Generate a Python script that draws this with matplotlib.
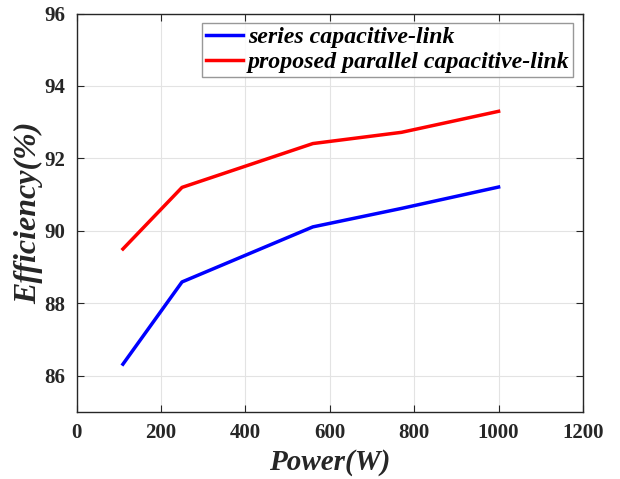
import matplotlib
matplotlib.use('Agg')
import matplotlib.pyplot as plt

# data
power = [110, 250, 560, 770, 1000]
eff_series = [86.32, 88.59, 90.11, 90.62, 91.21]
eff_parallel = [89.5, 91.2, 92.41, 92.72, 93.3]

plt.rcParams['font.family'] = 'Liberation Serif'

fig = plt.figure(figsize=(6.2, 4.79), dpi=100)
ax = fig.add_axes([76.5 / 620, 1 - 412 / 479, (583 - 76.5) / 620, (412 - 13.5) / 479])

ax.plot(power, eff_series, color='#0000ff', lw=2.5, label='series capacitive-link')
ax.plot(power, eff_parallel, color='#ff0000', lw=2.5, label='proposed parallel capacitive-link')

ax.set_xlim(0, 1200)
ax.set_ylim(85, 96)
ax.set_xticks(range(0, 1201, 200))
ax.set_yticks(range(86, 97, 2))
ax.grid(True, color='#e3e3e3', lw=0.8)
ax.set_axisbelow(True)
ax.tick_params(direction='in', top=True, right=True, length=5, width=0.8,
               labelsize=15, pad=8, colors='#262626')
for lab in ax.get_xticklabels() + ax.get_yticklabels():
    lab.set_fontweight('bold')
    lab.set_color('#262626')
for s in ax.spines.values():
    s.set_color('#262626')
    s.set_linewidth(1.0)

ax.set_xlabel('Power(W)', fontsize=21, fontweight='bold', fontstyle='italic', color='#262626', labelpad=4)
ax.set_ylabel('Efficiency(%)', fontsize=23, fontweight='bold', fontstyle='italic', color='#262626', labelpad=1)

leg = ax.legend(loc='upper right', bbox_to_anchor=(0.9805, 0.976), fancybox=False,
                prop={'family': 'Liberation Serif', 'weight': 'bold', 'style': 'italic', 'size': 17.2},
                handlelength=1.55, handletextpad=0.2, borderpad=0.15, labelspacing=0.12,
                borderaxespad=0)
leg.get_frame().set_edgecolor('#7f7f7f')
leg.get_frame().set_linewidth(1.0)

fig.savefig('out.png', dpi=100)
